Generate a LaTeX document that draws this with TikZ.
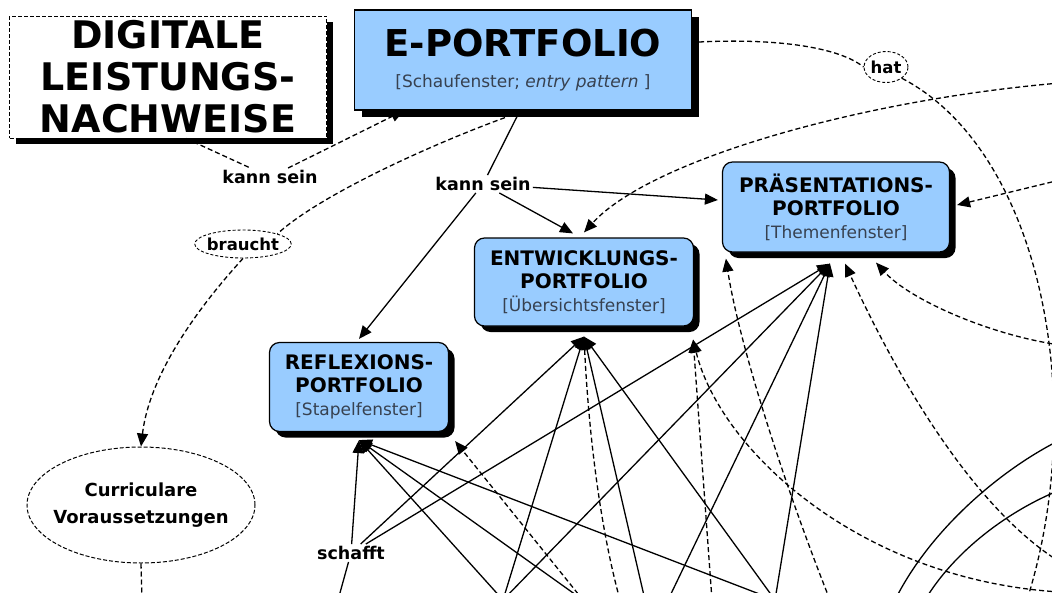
\documentclass[tikz,border=0pt]{standalone}
\usepackage{fontspec}
\setmainfont{DejaVu Sans}
\usetikzlibrary{arrows.meta,shapes.geometric,shadows}

\definecolor{portblue}{RGB}{153,204,255}
\definecolor{subtext}{RGB}{55,65,80}

\tikzset{
    shadowed/.style={drop shadow={shadow xshift=6pt,shadow yshift=-6pt,fill=black,opacity=1}},
    digibox/.style={draw, line width=1pt, dash pattern=on 4pt off 2pt, fill=white, shadowed, align=center,
        minimum width=317pt, minimum height=122pt, inner sep=0pt, font=\fontsize{38}{42}\selectfont\bfseries},
    ebox/.style={draw, line width=1.2pt, fill=portblue, align=center, inner sep=0pt,
        drop shadow={shadow xshift=7pt,shadow yshift=-7pt,fill=black,opacity=1},
        minimum width=337pt, minimum height=100pt, font=\fontsize{37}{31}\selectfont\bfseries},
    portbox/.style={draw, line width=1.2pt, fill=portblue, rounded corners=10pt, shadowed, align=center,
        inner sep=0pt, font=\fontsize{20}{23}\selectfont\bfseries},
    curri/.style={ellipse, draw, line width=1pt, dash pattern=on 4pt off 2pt, align=center,
        inner xsep=-25pt, inner ysep=-5pt,
        minimum width=228pt, minimum height=116pt, font=\fontsize{18}{27}\selectfont\bfseries},
    ovaltext/.style={ellipse, draw, line width=0.9pt, dash pattern=on 3pt off 2pt, inner sep=-2pt,
        font=\fontsize{16.5}{19}\selectfont\bfseries},
    linktext/.style={inner sep=2pt, font=\fontsize{17.5}{20}\selectfont\bfseries},
    conn/.style={line width=1.3pt},
    dconn/.style={line width=1.3pt, dash pattern=on 5pt off 3pt},
    arr/.style={-{Triangle[length=13pt,width=11pt]}},
}
\newcommand{\subline}[1]{{\mdseries\fontsize{17}{20}\selectfont\color{subtext}#1}}

\begin{document}
\begin{tikzpicture}[x=1pt, y=-1pt]
    \clip (0,0) rectangle (1052,592);

    % boxes
    \node[digibox] (digi) at (168,77) {DIGITALE\\LEISTUNGS-\\NACHWEISE};
    \node[ebox] (eport) at (523,60) {E-PORTFOLIO\\\subline{[Schaufenster; \textit{entry pattern} ]}};
    \node[portbox, minimum width=227pt, minimum height=90pt] (prae) at (836,207) {PRÄSENTATIONS-\\PORTFOLIO\\\subline{[Themenfenster]}};
    \node[portbox, minimum width=219pt, minimum height=88pt] (entw) at (584,282) {ENTWICKLUNGS-\\PORTFOLIO\\\subline{[Übersichtsfenster]}};
    \node[portbox, minimum width=179pt, minimum height=89pt] (refl) at (359,387) {REFLEXIONS-\\PORTFOLIO\\\subline{[Stapelfenster]}};
    \node[curri] (curri) at (141,505) {Curriculare\\Voraussetzungen};

    % link words
    \node[ovaltext, minimum width=70pt, minimum height=28pt] (braucht) at (243,244) {braucht};
    \node[ovaltext, minimum width=44pt, minimum height=31pt] (hat) at (886,67) {hat};
    \node[linktext] (kannL) at (270,177) {kann sein};
    \node[linktext] (kannM) at (483,184) {kann sein};
    \node[linktext] (schafft) at (351,553) {schafft};

    % ends outside the picture
    \coordinate (b1) at (503,600);
    \coordinate (b2) at (775,600);
    \coordinate (b3) at (338,600);
    \coordinate (b4) at (583,600);
    \coordinate (b5) at (645,600);
    \coordinate (b6) at (668,600);
    \coordinate (b7) at (620,600);
    \coordinate (b8) at (712,600);
    \coordinate (b9) at (830,600);
    \coordinate (b10) at (1027,600);
    \coordinate (b11) at (895,600);
    \coordinate (b12) at (925,600);
    \coordinate (b13) at (142,600);
    \coordinate (r1) at (1060,592);
    \coordinate (r2) at (1060,562);
    \coordinate (r3) at (1060,345);
    \coordinate (r4) at (1060,83);
    \coordinate (r5) at (1060,180);
    \coordinate (r6) at (1060,440);
    \coordinate (r7) at (1060,490);

    % arrow ends under the boxes
    \coordinate (reflB) at ([yshift=-8pt]refl.south);
    \coordinate (reflR) at ([xshift=6pt,yshift=-9pt]refl.south east);
    \coordinate (entwB) at ([yshift=-10pt]entw.south);
    \coordinate (entwR) at ([xshift=-1pt,yshift=-13pt]entw.south east);
    \coordinate (praeB) at ([xshift=-6pt,yshift=-11pt]prae.south);
    \coordinate (praeB2) at ([xshift=9pt,yshift=-11pt]prae.south);
    \coordinate (praeL) at ([xshift=4pt,yshift=-6pt]prae.south west);
    \coordinate (praeR) at ([xshift=40pt,yshift=-10pt]prae.south);

    % upper part
    \draw[dconn] ([xshift=18pt]digi.south) -- (kannL);
    \draw[dconn, arr] (kannL) -- ([xshift=50pt]eport.south west);
    \draw[conn] ([xshift=-3pt]eport.south) -- (kannM);
    \draw[conn, arr] (kannM) -- ([xshift=-4pt,yshift=7pt]prae.west);
    \draw[conn, arr] (kannM) -- ([xshift=-11pt,yshift=4pt]entw.north);
    \draw[conn, arr] (kannM) -- ([yshift=3pt]refl.north);
    \draw[dconn] ([xshift=-18pt,yshift=-7pt]eport.south) .. controls (430,145) and (320,195) .. (braucht.north east);
    \draw[dconn, arr] (braucht.south) .. controls (205,300) and (150,370) .. (curri.north);
    \draw[dconn] (curri.south) -- (b13);
    \draw[dconn] ([xshift=7pt,yshift=18pt]eport.east) .. controls (780,38) and (840,48) .. (hat.west);
    \draw[dconn] (hat.south east) .. controls (1040,150) and (1090,400) .. (b10);
    \draw[dconn, arr] (r4) .. controls (860,100) and (650,160) .. ([yshift=5pt]entw.north);
    \draw[dconn, arr] (r5) -- ([xshift=7pt,yshift=2pt]prae.east);
    \draw[dconn, arr] (r3) .. controls (990,335) and (910,300) .. (praeR);

    % lower part
    \draw[conn, arr] (schafft) -- (reflB);
    \draw[conn, arr] (schafft) -- (entwB);
    \draw[conn, arr] (schafft) -- (praeB);
    \draw[conn] (b3) -- (schafft);
    \draw[conn, arr] (b1) -- (reflB);
    \draw[conn, arr] (b1) -- (entwB);
    \draw[conn, arr] (b1) -- (praeB);
    \draw[conn, arr] (b4) -- (reflB);
    \draw[conn, arr] (b2) -- (reflB);
    \draw[conn, arr] (b2) -- (entwB);
    \draw[conn, arr] (b2) -- (praeB);
    \draw[conn, arr] (b5) -- (entwB);
    \draw[conn, arr] (b6) -- (praeB);
    \draw[dconn, arr] (b4) -- (reflR);
    \draw[dconn, arr] (b7) .. controls (598,520) and (588,420) .. (entwB);
    \draw[dconn, arr] (b8) -- (entwR);
    \draw[dconn, arr] (r1) .. controls (860,580) and (720,450) .. (entwR);
    \draw[dconn, arr] (b9) .. controls (790,500) and (740,350) .. (praeL);
    \draw[dconn, arr] (r2) .. controls (960,500) and (880,340) .. (praeB2);
    \draw[conn] (b11) .. controls (930,530) and (1000,470) .. (r6);
    \draw[conn] (b12) .. controls (955,550) and (1010,510) .. (r7);

\end{tikzpicture}
\end{document}
